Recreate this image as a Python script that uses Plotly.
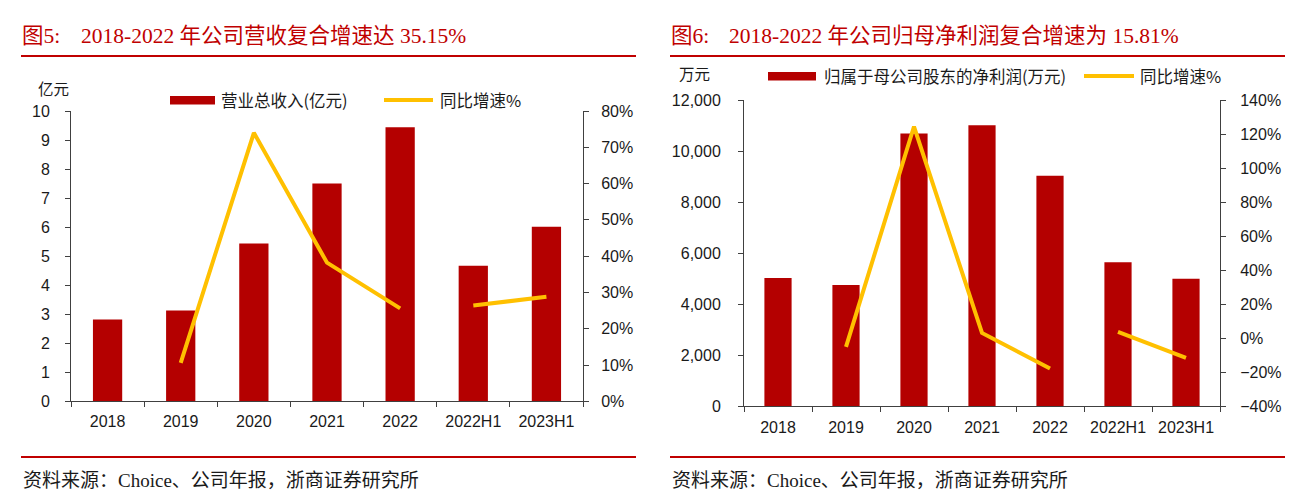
import plotly.graph_objects as go

# ---------------- data ----------------
categories = ["2018", "2019", "2020", "2021", "2022", "2022H1", "2023H1"]
revenue = [2.82, 3.13, 5.44, 7.50, 9.44, 4.67, 6.01]            # 亿元
revenue_growth = [None, 10.6, 74.0, 38.2, 25.6, 26.4, 28.8]       # %
profit = [5016, 4743, 10684, 11010, 9029, 5642, 4990]             # 万元
profit_growth = [None, -5.2, 124.4, 3.0, -17.9, 3.6, -11.7]       # %

left_title_tag = "图5:"
left_title = "2018-2022 年公司营收复合增速达 35.15%"
right_title_tag = "图6:"
right_title = "2018-2022 年公司归母净利润复合增速为 15.81%"
source_text = "资料来源：Choice、公司年报，浙商证券研究所"
left_bar_name = "营业总收入(亿元)"
right_bar_name = "归属于母公司股东的净利润(万元)"
line_name = "同比增速%"

# page body has an 8px margin: the figure is offset by (8, 8) in the window
OFF = 8
W, H = 1309 - OFF, 501 - OFF
BAR = "#B40000"
LINE = "#FFC000"
RED = "#C00000"
AX = "#404040"
SANS = "Liberation Sans, Arial, Noto Sans CJK SC"
CJK = "Noto Sans CJK SC"
SERIF = "Liberation Serif, Times New Roman, Noto Sans CJK SC"


def px(x):
    return (x - OFF) / W


def py(y):
    return 1 - (y - OFF) / H


fig = go.Figure()

# left chart
fig.add_trace(go.Bar(x=categories, y=revenue, marker=dict(color=BAR, line=dict(width=0)),
                     width=0.4, xaxis="x", yaxis="y", showlegend=False))
fig.add_trace(go.Scatter(x=categories[:5], y=revenue_growth[:5], mode="lines",
                         line=dict(color=LINE, width=4), xaxis="x", yaxis="y2", showlegend=False))
fig.add_trace(go.Scatter(x=categories[5:], y=revenue_growth[5:], mode="lines",
                         line=dict(color=LINE, width=4), xaxis="x", yaxis="y2", showlegend=False))

# right chart
fig.add_trace(go.Bar(x=categories, y=profit, marker=dict(color=BAR, line=dict(width=0)),
                     width=0.4, xaxis="x2", yaxis="y3", showlegend=False))
fig.add_trace(go.Scatter(x=categories[:5], y=profit_growth[:5], mode="lines",
                         line=dict(color=LINE, width=4), xaxis="x2", yaxis="y4", showlegend=False))
fig.add_trace(go.Scatter(x=categories[5:], y=profit_growth[5:], mode="lines",
                         line=dict(color=LINE, width=4), xaxis="x2", yaxis="y4", showlegend=False))

tickfont = dict(family=SANS, size=16, color="#1a1a1a")
common_axis = dict(showline=True, linecolor=AX, linewidth=1, ticks="outside", ticklen=5,
                   tickcolor=AX, tickwidth=1, showgrid=False, zeroline=False,
                   tickfont=tickfont, fixedrange=True, automargin=False)

fig.update_layout(
    template="none",
    width=W, height=H,
    autosize=False,
    margin=dict(l=0, r=0, t=0, b=0, pad=0, autoexpand=False),
    paper_bgcolor="white", plot_bgcolor="white",
    showlegend=False,
    xaxis=dict(domain=[px(71), px(583)], anchor="y", type="category",
               categoryorder="array", categoryarray=categories,
               range=[-0.5, 6.5], tickson="boundaries", ticklabelstandoff=5, **common_axis),
    yaxis=dict(domain=[py(401.3), py(111)], anchor="x", range=[0, 10], dtick=1,
               ticklabelstandoff=12, **common_axis),
    yaxis2=dict(overlaying="y", side="right", anchor="x", range=[0, 80], dtick=10,
                ticksuffix="%", ticklabelstandoff=9, **common_axis),
    xaxis2=dict(domain=[px(744), px(1220)], anchor="y3", type="category",
                categoryorder="array", categoryarray=categories,
                range=[-0.5, 6.5], tickson="boundaries", ticklabelstandoff=7, **common_axis),
    yaxis3=dict(domain=[py(406), py(100)], anchor="x2", range=[0, 12000], dtick=2000,
                tickformat=",", ticklabelstandoff=14, **common_axis),
    yaxis4=dict(overlaying="y3", side="right", anchor="x2", range=[-40, 140], dtick=20,
                ticksuffix="%", ticklabelstandoff=11, **common_axis),
)

shapes = []
annotations = []

# red rules under titles and above sources
for x0, x1 in [(21, 636), (670, 1285)]:
    for y in (56, 457):
        shapes.append(dict(type="line", xref="paper", yref="paper", x0=px(x0), x1=px(x1),
                           y0=py(y), y1=py(y), line=dict(color=RED, width=2)))


def text(x, y, s, size, family, color="#1a1a1a", xanchor="left"):
    annotations.append(dict(x=px(x), y=py(y), xref="paper", yref="paper", text=s,
                            showarrow=False, xanchor=xanchor, yanchor="middle",
                            font=dict(family=family, size=size, color=color)))


# titles
text(20, 36, left_title_tag, 21.5, SERIF, RED)
text(79, 36, left_title, 21.5, SERIF, RED)
text(669, 36, right_title_tag, 21.5, SERIF, RED)
text(727, 36, right_title, 21.5, SERIF, RED)

# sources
text(21, 480, source_text, 19, SERIF, "#1a1a1a")
text(670, 480, source_text, 19, SERIF, "#1a1a1a")

# unit labels
text(36, 88, "亿元", 15.5, CJK)
text(677, 73, "万元", 15.5, CJK)

# custom legends
shapes.append(dict(type="rect", xref="paper", yref="paper", x0=px(170), x1=px(215),
                   y0=py(104.5), y1=py(96), fillcolor=BAR, line=dict(width=0)))
text(219, 100, left_bar_name, 16.5, CJK)
shapes.append(dict(type="line", xref="paper", yref="paper", x0=px(384), x1=px(433),
                   y0=py(100), y1=py(100), line=dict(color=LINE, width=4)))
text(438, 100, line_name, 16.5, CJK)

shapes.append(dict(type="rect", xref="paper", yref="paper", x0=px(768), x1=px(816),
                   y0=py(80.5), y1=py(72), fillcolor=BAR, line=dict(width=0)))
text(822, 76, right_bar_name, 16.5, CJK)
shapes.append(dict(type="line", xref="paper", yref="paper", x0=px(1084), x1=px(1134),
                   y0=py(76), y1=py(76), line=dict(color=LINE, width=4)))
text(1138, 76, line_name, 16.5, CJK)

fig.update_layout(shapes=shapes, annotations=annotations)

fig.write_html("out.html")
